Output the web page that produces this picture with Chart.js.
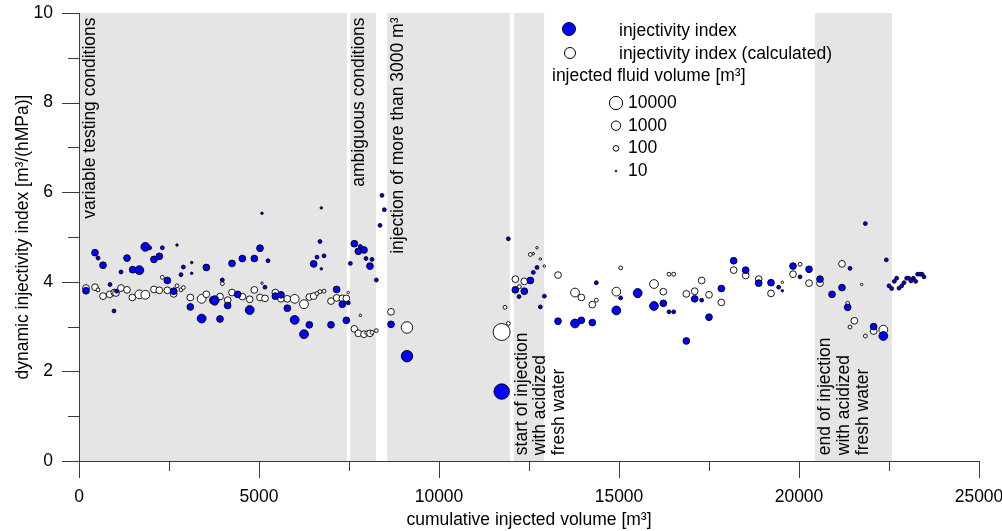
<!DOCTYPE html>
<html>
<head>
<meta charset="utf-8">
<title>Dynamic injectivity index</title>
<script src="https://cdn.jsdelivr.net/npm/chart.js@4.4.0/dist/chart.umd.min.js"></script>
<style>
  html, body { margin: 0; padding: 0; background: #fff; }
  canvas { display: block; }
</style>
</head>
<body>
<canvas id="injectivity-chart" width="1002" height="531"></canvas>
<script>
// measured injectivity index (blue)
const measuredVolume = [
  194, 444, 528, 667, 861, 972, 1046, 1167, 1333, 1491, 1676, 1843, 1963, 2083, 2231, 2315, 2454, 2630, 2722, 2833,
  2898, 3093, 3130, 3130, 3407, 3537, 3722, 3769, 3917, 3981, 4130, 4250, 4407, 4537, 4741, 4870, 5028, 5083, 5167, 5250,
  5454, 5611, 5787, 5991, 6250, 6398, 6518, 6611, 6694, 6731, 6731, 6806, 7000, 7157, 7315, 7426, 7481,
  7537, 7648, 7759, 7815, 7917, 7972, 8083, 8139, 8259, 8361, 8417, 8481, 8667, 9111, 11741,
  11926, 12120, 12222, 12370, 12537, 12620, 12722, 12815, 12926, 13306, 13778, 13954, 14259, 14370, 14926, 15046, 15519, 15972, 16231, 16389,
  16519, 16870, 17102, 17296, 17500, 17843, 18185, 18519, 18880, 19222, 19435, 19537, 19833, 20028, 20278, 20583, 20917, 21194, 21352, 21417,
  21843, 22074, 22343, 22426, 22500, 22574, 22648, 22713, 22778, 22852, 22917, 22991, 23046, 23111, 23176, 23241, 23296, 23361, 23417, 23472
];
const measuredIndex = [
  3.80, 4.65, 4.53, 4.37, 3.94, 3.35, 3.79, 4.22, 4.53, 4.27, 4.26, 4.78, 4.76, 4.50, 4.57, 4.76, 4.03, 3.79, 4.82, 4.16,
  4.33, 3.44, 4.43, 4.19, 3.18, 4.32, 3.58, 3.59, 3.17, 4.04, 3.47, 4.41, 3.72, 4.52, 3.37, 4.52, 4.75, 5.53, 3.88, 4.47,
  3.68, 3.71, 3.41, 3.15, 2.83, 3.04, 4.40, 4.55, 4.90, 5.65, 4.29, 4.58, 3.04, 3.83, 3.50, 3.14, 3.53,
  4.41, 4.85, 4.68, 4.79, 4.71, 4.52, 4.35, 4.50, 4.04, 5.26, 5.93, 5.61, 3.05, 2.34, 1.55,
  4.96, 3.82, 3.67, 3.79, 4.03, 4.21, 4.32, 3.44, 3.68, 3.12, 3.07, 3.14, 3.09, 3.98, 3.36, 3.64, 3.75, 3.46, 3.52, 3.33,
  3.33, 2.68, 3.62, 3.59, 3.21, 3.85, 4.47, 4.26, 3.97, 3.98, 3.88, 3.80, 4.35, 4.11, 4.28, 4.06, 3.72, 3.87, 3.43, 4.30,
  5.30, 3.00, 2.79, 4.49, 3.91, 3.85, 4.01, 4.08, 3.86, 3.91, 3.98, 4.08, 4.08, 4.02, 4.08, 4.01, 4.17, 4.17, 4.17, 4.11
];
const measuredFluid = [
  200, 200, 35, 200, 35, 35, 35, 35, 200, 200, 700, 700, 35, 200, 200, 35, 200, 200, 15, 35,
  35, 200, 15, 15, 700, 200, 200, 700, 200, 35, 200, 200, 200, 200, 700, 200, 200, 15, 35, 35,
  200, 200, 200, 700, 700, 200, 200, 35, 35, 15, 15, 35, 200, 200, 200, 200, 35,
  35, 200, 200, 35, 200, 35, 200, 35, 35, 35, 35, 35, 200, 3500, 40000,
  35, 200, 35, 200, 200, 35, 35, 35, 35, 200, 700, 200, 200, 35, 700, 35, 700, 700, 200, 35,
  35, 200, 200, 35, 200, 200, 200, 200, 200, 200, 35, 15, 200, 35, 200, 200, 200, 200, 200, 35,
  35, 200, 700, 35, 35, 35, 35, 35, 35, 35, 35, 35, 35, 35, 35, 35, 35, 35, 35, 35
];

// calculated injectivity index (white)
const calcVolume = [
  194, 444, 528, 667, 852, 981, 1028, 1167, 1333, 1481, 1676, 1843, 2083, 2231, 2315, 2454, 2630, 2722, 2833, 2898,
  3093, 3407, 3537, 3722, 3769, 3917, 3981, 4130, 4250, 4537, 4741, 4870, 5028, 5083, 5167, 5454, 5611, 5787, 5991, 6250,
  6398, 6518, 6611, 6694, 6806, 7000, 7157, 7315, 7426, 7481, 7648, 7759, 7815, 7917, 7991, 8083, 8139, 8259, 8667, 9111,
  11741, 11833, 11926, 12120, 12231, 12370, 12537, 12620, 12722, 12815, 12926, 13306, 13778, 13954, 14259, 14370, 14926, 15046, 15519, 15972,
  16231, 16389, 16519, 16870, 17102, 17296, 17500, 17843, 18185, 18519, 18880, 19222, 19537, 19833, 20028, 20278, 20583, 21194, 21352, 21417,
  21537, 21741, 21843, 22074, 22343
];
const calcIndex = [
  3.86, 3.88, 3.82, 3.68, 3.72, 3.76, 3.75, 3.86, 3.82, 3.65, 3.72, 3.71, 3.83, 3.81, 4.10, 3.81, 3.73, 3.91, 3.82, 3.87,
  3.65, 3.62, 3.72, 3.60, 3.55, 3.67, 3.96, 3.59, 3.76, 3.67, 3.61, 3.82, 3.65, 3.97, 3.63, 3.76, 3.62, 3.62, 3.62, 3.50,
  3.66, 3.68, 3.74, 3.78, 3.79, 3.57, 3.64, 3.63, 3.63, 3.76, 2.95, 2.85, 3.25, 2.83, 2.86, 2.85, 2.87, 2.91, 3.33, 2.98,
  2.88, 3.43, 3.07, 4.06, 3.89, 4.01, 4.61, 4.63, 4.76, 4.51, 4.35, 4.15, 3.76, 3.65, 3.49, 3.59, 3.78, 4.31, 3.72, 3.95,
  3.78, 4.17, 4.17, 3.73, 3.79, 4.03, 3.71, 3.54, 4.26, 4.14, 4.06, 3.74, 3.99, 4.17, 4.39, 3.97, 3.97, 4.40, 3.52, 2.99,
  3.13, 3.94, 2.79, 2.90, 2.93
];
const calcFluid = [
  200, 200, 35, 200, 200, 200, 200, 200, 200, 200, 700, 700, 200, 200, 35, 200, 200, 35, 35, 35,
  200, 700, 200, 200, 200, 200, 35, 200, 200, 200, 200, 200, 200, 15, 200, 200, 200, 200, 700, 700,
  200, 200, 35, 35, 35, 200, 200, 200, 200, 15, 200, 200, 15, 200, 35, 200, 35, 35, 200, 3500,
  100000, 35, 35, 200, 35, 200, 35, 15, 15, 15, 15, 200, 700, 200, 200, 35, 700, 35, 200, 700,
  200, 35, 35, 200, 200, 200, 200, 200, 200, 200, 200, 200, 15, 200, 35, 200, 200, 200, 35, 35,
  200, 15, 35, 200, 700
];

// shaded periods on the volume axis
const bandStart = [0, 7530, 8560, 12080, 20440];
const bandEnd = [7440, 8250, 11970, 12920, 22580];

const legendVolumes = [10000, 1000, 100, 10];

const FONT = "'Liberation Sans', Arial, sans-serif";
const FONT_SIZE = 17.5;
const AXIS_COLOR = '#3a3a3a';

// bubble size from injected fluid volume (log scale)
const toRadius = v => Math.max(0.8, 1.9 * Math.log10(v) - 1.0);
const bubbles = (xs, ys, vols) => xs.map((x, i) => ({ x: x, y: ys[i], r: toRadius(vols[i]) }));

const shadedBands = {
    id: 'shadedBands',
    beforeDraw(chart) {
        const {ctx, chartArea, scales: {x}} = chart;
        ctx.save();
        ctx.fillStyle = '#e5e5e5';
        bandStart.forEach((start, i) => {
            const x0 = x.getPixelForValue(start);
            const x1 = x.getPixelForValue(bandEnd[i]);
            ctx.fillRect(x0, chartArea.top, x1 - x0, chartArea.bottom - chartArea.top);
        });
        ctx.restore();
    }
};

// vertical notes written inside the shaded periods
const periodNotes = {
    id: 'periodNotes',
    beforeDatasetsDraw(chart) {
        const {ctx, scales: {x, y}} = chart;
        const notes = [
            { text: 'variable testing conditions', vx: 300, vy: 9.9, align: 'right' },
            { text: 'ambiguous conditions', vx: 7780, vy: 9.9, align: 'right' },
            { text: 'injection of more than 3000 m³', vx: 8860, vy: 9.9, align: 'right' },
            { text: 'start of injection', vx: 12300, vy: 0.13, align: 'left' },
            { text: 'with acidized', vx: 12820, vy: 0.13, align: 'left' },
            { text: 'fresh water', vx: 13350, vy: 0.13, align: 'left' },
            { text: 'end of injection', vx: 20730, vy: 0.13, align: 'left' },
            { text: 'with acidized', vx: 21250, vy: 0.13, align: 'left' },
            { text: 'fresh water', vx: 21780, vy: 0.13, align: 'left' }
        ];
        ctx.save();
        ctx.fillStyle = '#000';
        ctx.font = FONT_SIZE + 'px ' + FONT;
        ctx.textBaseline = 'middle';
        notes.forEach(n => {
            ctx.save();
            ctx.translate(x.getPixelForValue(n.vx), y.getPixelForValue(n.vy));
            ctx.rotate(-Math.PI / 2);
            ctx.textAlign = n.align;
            ctx.fillText(n.text, 0, 0);
            ctx.restore();
        });
        ctx.restore();
    }
};

// outside tick marks, long on labelled values and short in between
const axisTicks = {
    id: 'axisTicks',
    afterDraw(chart) {
        const {ctx, chartArea, scales: {x, y}} = chart;
        ctx.save();
        ctx.strokeStyle = AXIS_COLOR;
        ctx.lineWidth = 1;
        ctx.beginPath();
        for (let v = x.min; v <= x.max; v += 2500) {
            const px = Math.round(x.getPixelForValue(v)) + 0.5;
            const len = v % 5000 === 0 ? 17 : 10;
            ctx.moveTo(px, chartArea.bottom);
            ctx.lineTo(px, chartArea.bottom + len);
        }
        for (let v = y.min; v <= y.max; v += 1) {
            const py = Math.round(y.getPixelForValue(v)) + 0.5;
            const len = v % 2 === 0 ? 17 : 11;
            ctx.moveTo(chartArea.left, py);
            ctx.lineTo(chartArea.left - len, py);
        }
        ctx.stroke();
        ctx.restore();
    }
};

// legend with the two series and the bubble size key
const sizeLegend = {
    id: 'sizeLegend',
    afterDraw(chart) {
        const {ctx} = chart;
        const circle = (cx, cy, r, fill) => {
            ctx.beginPath();
            ctx.arc(cx, cy, r, 0, Math.PI * 2);
            ctx.fillStyle = fill;
            ctx.fill();
            ctx.strokeStyle = '#000';
            ctx.lineWidth = 1;
            ctx.stroke();
        };
        ctx.save();
        ctx.font = FONT_SIZE + 'px ' + FONT;
        ctx.textBaseline = 'middle';
        ctx.textAlign = 'left';
        circle(569, 29, 6.5, '#0000ff');
        circle(570, 53, 5.5, '#ffffff');
        ctx.fillStyle = '#000';
        ctx.fillText('injectivity index', 619, 31);
        ctx.fillText('injectivity index (calculated)', 619, 54);
        ctx.fillText('injected fluid volume [m³]', 552, 76);
        legendVolumes.forEach((v, i) => {
            const cy = 103 + i * 22.7;
            circle(616, cy, toRadius(v), '#ffffff');
            ctx.fillStyle = '#000';
            ctx.fillText(String(v), 628, cy);
        });
        ctx.restore();
    }
};

document.addEventListener('DOMContentLoaded', () => {
    const canvas = document.getElementById('injectivity-chart');
    const ctx = canvas.getContext('2d');
    new Chart(ctx, {
        type: 'bubble',
        data: {
            datasets: [
                {
                    label: 'injectivity index',
                    data: bubbles(measuredVolume, measuredIndex, measuredFluid),
                    backgroundColor: '#0000ff',
                    borderColor: '#000000',
                    borderWidth: 0.9
                },
                {
                    label: 'injectivity index (calculated)',
                    data: bubbles(calcVolume, calcIndex, calcFluid),
                    backgroundColor: '#ffffff',
                    borderColor: '#000000',
                    borderWidth: 0.9
                }
            ]
        },
        options: {
            responsive: false,
            animation: false,
            layout: { padding: { top: 13, right: 23, left: 0, bottom: 0 } },
            plugins: {
                legend: { display: false },
                tooltip: { enabled: false }
            },
            scales: {
                x: {
                    type: 'linear',
                    min: 0,
                    max: 25000,
                    afterFit: scale => {
                        scale.height = 70;
                        scale.paddingLeft = 0;
                        scale.paddingRight = 0;
                    },
                    grid: { display: false, drawTicks: false },
                    border: { display: true, color: AXIS_COLOR, width: 1 },
                    ticks: {
                        stepSize: 5000,
                        padding: 26,
                        color: '#000',
                        font: { family: FONT, size: FONT_SIZE },
                        maxRotation: 0,
                        callback: v => String(v)
                    },
                    title: {
                        display: true,
                        text: 'cumulative injected volume [m³]',
                        color: '#000',
                        font: { family: FONT, size: FONT_SIZE },
                        padding: { top: 0, bottom: 0 }
                    }
                },
                y: {
                    type: 'linear',
                    min: 0,
                    max: 10,
                    afterFit: scale => {
                        scale.width = 79;
                        scale.paddingTop = 0;
                        scale.paddingBottom = 0;
                    },
                    grid: { display: false, drawTicks: false },
                    border: { display: true, color: AXIS_COLOR, width: 1 },
                    ticks: {
                        stepSize: 2,
                        padding: 26,
                        color: '#000',
                        font: { family: FONT, size: FONT_SIZE },
                        callback: v => String(v)
                    },
                    title: {
                        display: true,
                        text: 'dynamic injectivity index [m³/(hMPa)]',
                        color: '#000',
                        font: { family: FONT, size: FONT_SIZE },
                        padding: { top: 13, bottom: 0 }
                    }
                }
            }
        },
        plugins: [shadedBands, periodNotes, axisTicks, sizeLegend]
    });
});
</script>
</body>
</html>
